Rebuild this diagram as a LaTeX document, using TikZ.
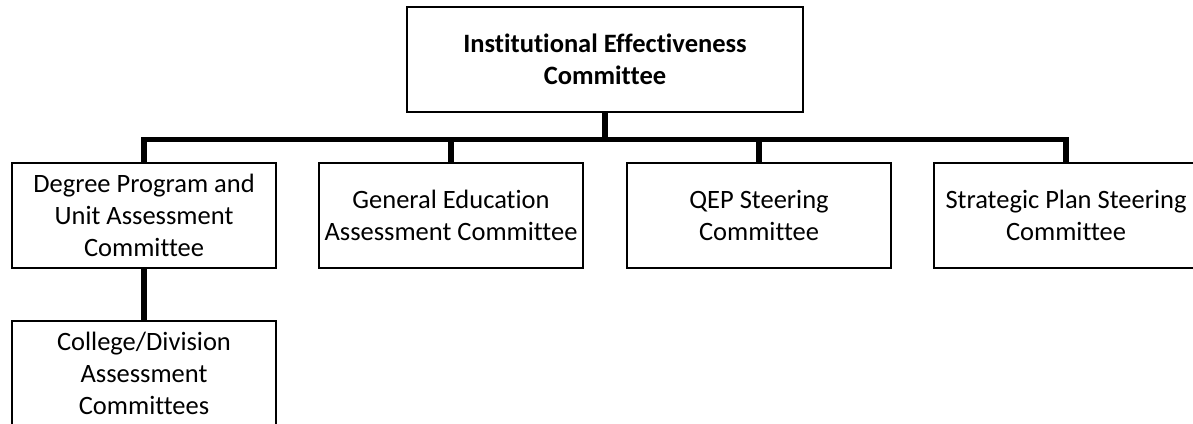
\documentclass[tikz,border=0pt]{standalone}
\usepackage{fontspec}
\setmainfont{Carlito}[Ligatures=NoCommon]
\tikzset{
  unit/.style={draw, line width=1.6pt, minimum width=264pt, minimum height=105pt,
    inner sep=0pt, align=center, font=\fontsize{26.5}{32}\selectfont},
  link/.style={line width=5.5pt, line join=miter}
}
\begin{document}
\begin{tikzpicture}[x=1pt, y=-1pt]
\useasboundingbox (0,0) rectangle (1193,423);
\clip (0,0) rectangle (1193,423);

\node[unit, minimum width=396pt, font=\fontsize{26.5}{32}\selectfont\bfseries] (iec) at (605,59.5) {Institutional Effectiveness\\Committee};
\node[unit] (deg) at (144,215.5) {Degree Program and\\Unit Assessment\\Committee};
\node[unit] (gen) at (451,215.5) {General Education\\Assessment Committee};
\node[unit] (qep) at (759,215.5) {QEP Steering\\Committee};
\node[unit] (spc) at (1066,215.5) {Strategic Plan Steering\\Committee};
\node[unit] (col) at (144,373.5) {College/Division\\Assessment\\Committees};

\coordinate (hub) at (605,139.5);

\path[draw,link] (iec.south) -- (hub);
\path[draw,link] (hub) -| (deg.north);
\path[draw,link] (hub) -| (gen.north);
\path[draw,link] (hub) -| (qep.north);
\path[draw,link] (hub) -| (spc.north);
\path[draw,link] (deg.south) -- (col.north);
\end{tikzpicture}
\end{document}
